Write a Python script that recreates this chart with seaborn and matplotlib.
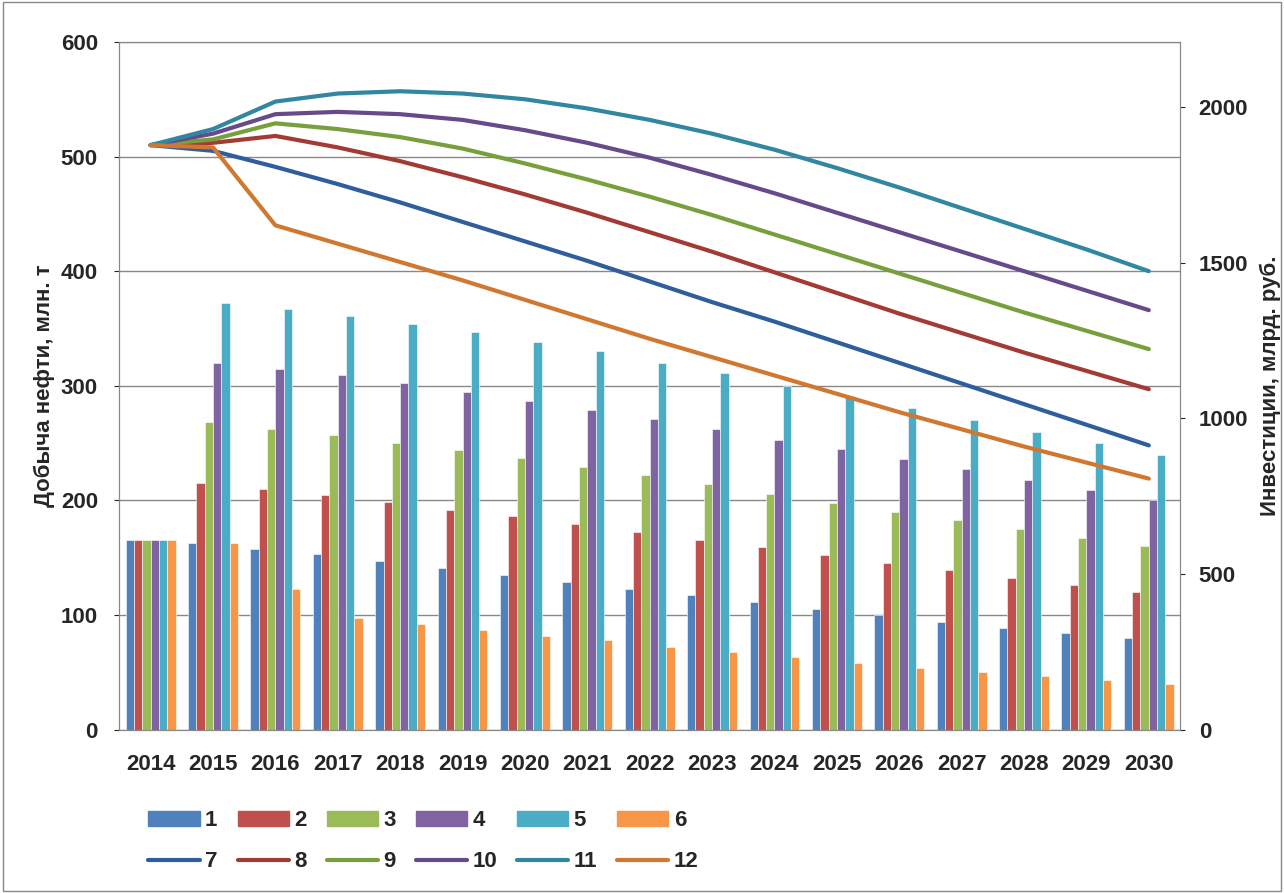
import numpy as np
import pandas as pd
import matplotlib
matplotlib.use('Agg')
import matplotlib.pyplot as plt
import seaborn as sns
from matplotlib.lines import Line2D
from matplotlib.patches import Patch

years = [str(y) for y in range(2014, 2031)]

# bars (in left-axis units)
bar1 = [165, 163, 158, 153, 147, 141, 135, 129, 123, 117, 111, 105, 100, 94, 89, 84, 80]
bar2 = [165, 215, 210, 205, 199, 192, 186, 179, 172, 165, 159, 152, 145, 139, 132, 126, 120]
bar3 = [165, 268, 262, 257, 250, 244, 237, 229, 222, 214, 206, 198, 190, 183, 175, 167, 160]
bar4 = [165, 320, 315, 309, 302, 295, 287, 279, 271, 262, 253, 245, 236, 227, 218, 209, 200]
bar5 = [165, 372, 367, 361, 354, 347, 338, 330, 320, 311, 300, 291, 281, 270, 260, 250, 240]
bar6 = [165, 163, 123, 97, 92, 87, 82, 78, 72, 68, 63, 58, 54, 50, 47, 43, 40]

line7 = [510, 505, 491, 476, 460, 443, 426, 409, 391, 373, 356, 338, 320, 302, 284, 266, 248]
line8 = [510, 512, 518, 508, 496, 482, 467, 451, 434, 417, 399, 381, 363, 346, 329, 313, 297]
line9 = [510, 515, 529, 524, 517, 507, 494, 480, 465, 449, 432, 415, 398, 381, 364, 348, 332]
line10 = [510, 520, 537, 539, 537, 532, 523, 512, 499, 484, 468, 451, 434, 417, 400, 383, 366]
line11 = [510, 524, 548, 555, 557, 555, 550, 542, 532, 520, 506, 490, 473, 455, 437, 419, 400]
line12 = [510, 508, 440, 424, 408, 392, 375, 358, 341, 325, 309, 293, 277, 262, 247, 233, 219]

bar_names = ['1', '2', '3', '4', '5', '6']
line_names = ['7', '8', '9', '10', '11', '12']
bar_colors = ['#4F81BD', '#C0504D', '#9BBB59', '#8064A2', '#4BACC6', '#F79646']
line_colors = ['#2F5E9E', '#A33A36', '#77A03D', '#664A8A', '#31879F', '#D0782F']

sns.set_style('white')
plt.rcParams['font.family'] = ['Liberation Sans', 'DejaVu Sans']

fig = plt.figure(figsize=(12.84, 8.93), dpi=100)
ax = fig.add_axes([0.093, 0.183, 0.826, 0.77])

bars_df = pd.DataFrame({'Year': years * 6,
                        'Value': bar1 + bar2 + bar3 + bar4 + bar5 + bar6,
                        'Series': sum([[n] * 17 for n in bar_names], [])})
ax.yaxis.grid(True, color='#888888', lw=1)
ax.set_axisbelow(True)
sns.barplot(data=bars_df, x='Year', y='Value', hue='Series', palette=bar_colors,
            width=0.8, ax=ax, legend=False, saturation=1, edgecolor='white', linewidth=0.4)

x = np.arange(17)
for vals, c in zip([line7, line8, line9, line10, line11, line12], line_colors):
    sns.lineplot(x=x, y=vals, color=c, lw=3, ax=ax)

ax.set_xlim(-0.5, 16.5)
ax.set_ylim(0, 600)
ax.set_yticks(range(0, 601, 100))
ax.set_xlabel('')
ax.set_ylabel('Добыча нефти, млн. т', fontsize=16, fontweight='bold')
ax.tick_params(axis='x', labelsize=16, pad=14)
ax.tick_params(axis='y', labelsize=16, pad=12)
for t in ax.get_xticklabels() + ax.get_yticklabels():
    t.set_fontweight('bold')
for s in ax.spines.values():
    s.set_color('#888888')

ax2 = ax.twinx()
ax2.set_ylim(0, 2209)
ax2.set_yticks([0, 500, 1000, 1500, 2000])
ax2.tick_params(labelsize=16, pad=10)
for t in ax2.get_yticklabels():
    t.set_fontweight('bold')
ax2.set_ylabel('Инвестиции, млрд. руб.', fontsize=16, fontweight='bold', labelpad=8)
for s in ax2.spines.values():
    s.set_color('#888888')

handles, labels = [], []
for i in range(6):
    handles.append(Patch(color=bar_colors[i]))
    labels.append(bar_names[i])
    handles.append(Line2D([], [], color=line_colors[i], lw=3))
    labels.append(line_names[i])
leg = fig.legend(handles, labels, ncol=6, loc='upper left', bbox_to_anchor=(0.1, 0.115),
                 frameon=False, prop={'size': 16, 'weight': 'bold'}, handlelength=2.3,
                 handletextpad=0.25, columnspacing=0.9, labelspacing=0.9)

fig.patches.append(plt.Rectangle((0.002, 0.002), 0.996, 0.996, transform=fig.transFigure,
                                 fill=False, ec='#888888', lw=1))
fig.savefig('out.png', dpi=100)
